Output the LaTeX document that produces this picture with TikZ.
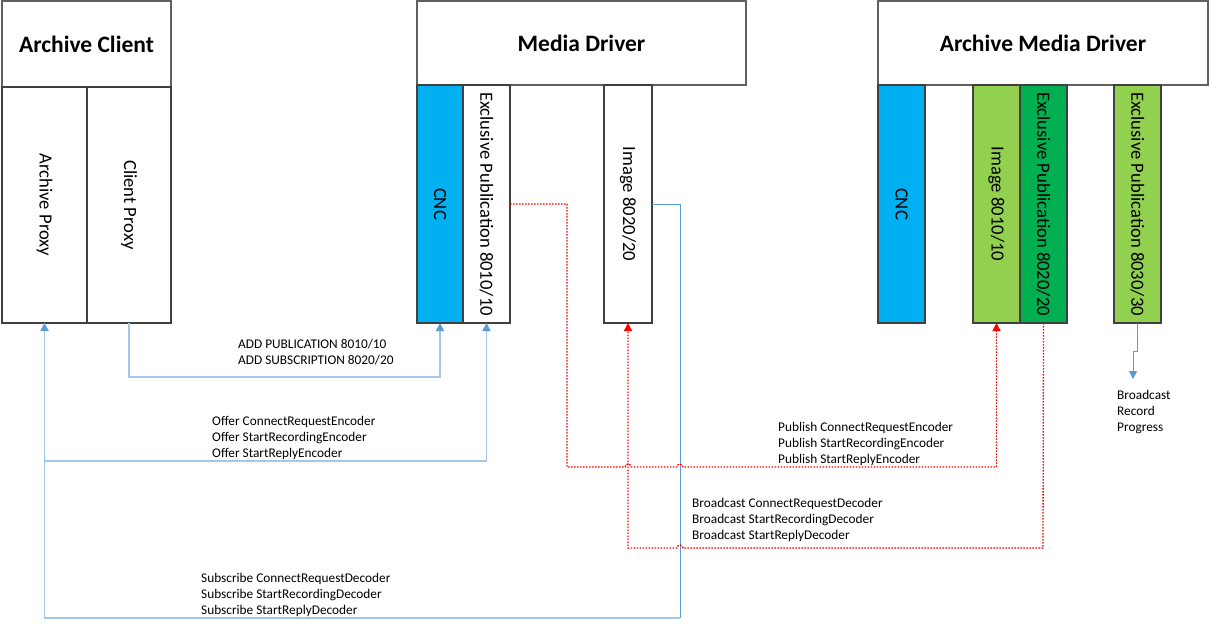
\documentclass[tikz,border=0pt]{standalone}
\usepackage{fontspec}
\setmainfont{Carlito}
\usetikzlibrary{arrows.meta}
\definecolor{cncblue}{HTML}{00B0F0}
\definecolor{lgreen}{HTML}{92D050}
\definecolor{dgreen}{HTML}{00B050}
\definecolor{lblue}{HTML}{A4C6E8}
\definecolor{mblue}{HTML}{5B9BD5}
\definecolor{boxline}{HTML}{404040}
\definecolor{hdrline}{HTML}{606060}
\tikzset{
  hdr/.style={draw=hdrline, line width=1.2pt, fill=white, inner sep=0pt, outer sep=0pt, anchor=north west},
  ttl/.style={font=\fontsize{23.5}{28}\selectfont\bfseries},
  colbox/.style={draw=boxline, line width=1.2pt, inner sep=0pt, outer sep=0pt, anchor=north west,
    minimum width=47pt, minimum height=238pt},
  rotlab/.style={rotate=-90, inner sep=0pt, font=\fontsize{18.6}{20}\selectfont},
  lbl/.style={anchor=north west, inner sep=0pt, align=left, font=\fontsize{13.3}{16}\selectfont},
  btip/.style={-{Triangle[length=8pt,width=8pt,color=mblue]}},
  bwide/.style={draw=lblue, line width=1.8pt},
  bthin/.style={draw=mblue, line width=1pt},
  reddot/.style={draw=red, line width=1.3pt, dash pattern=on 1.6pt off 1.4pt,
    -{Triangle[length=8pt,width=8pt,color=red]}}
}
\begin{document}
\begin{tikzpicture}[x=1pt,y=-1pt]
\useasboundingbox (0,0) rectangle (1210,624);
% ---------- Archive Client ----------
\node[hdr, minimum width=169pt, minimum height=86pt] (ac) at (2,1) {};
\node[ttl] at (ac.center) {Archive Client};
\node[colbox, minimum width=85pt, minimum height=236pt] (ap) at (2,87) {};
\node[rotlab] at (ap.center) {Archive Proxy};
\node[colbox, minimum width=84pt, minimum height=236pt] (cp) at (87,87) {};
\node[rotlab] at (cp.center) {Client Proxy};
% ---------- Media Driver ----------
\node[hdr, minimum width=329pt, minimum height=84pt] (md) at (417,1) {};
\node[ttl] at (md.center) {Media Driver};
\node[colbox, fill=cncblue, minimum width=46pt] (cnc1) at (417,85) {};
\node[rotlab] at (cnc1.center) {CNC};
\node[colbox, fill=white] (ep1) at (463,85) {};
\node[rotlab] at (ep1.center) {Exclusive Publication 8010/10};
\node[colbox, fill=white, minimum width=48pt] (img2) at (604,85) {};
\node[rotlab] at (img2.center) {Image 8020/20};
% ---------- Archive Media Driver ----------
\node[hdr, minimum width=330pt, minimum height=84pt] (amd) at (878,1) {};
\node[ttl] at (amd.center) {Archive Media Driver};
\node[colbox, fill=cncblue] (cnc2) at (878,85) {};
\node[rotlab] at (cnc2.center) {CNC};
\node[colbox, fill=lgreen] (img1) at (973,85) {};
\node[rotlab] at (img1.center) {Image 8010/10};
\node[colbox, fill=dgreen] (ep2) at (1020,85) {};
\node[rotlab] at (ep2.center) {Exclusive Publication 8020/20};
\node[colbox, fill=lgreen] (ep3) at (1114,85) {};
\node[rotlab] at (ep3.center) {Exclusive Publication 8030/30};
% ---------- helper coordinates ----------
\coordinate (addy) at (0,377);
\coordinate (offy) at (0,461);
\coordinate (subc) at (680,618);
\coordinate (r1c) at (567,467);
\coordinate (r2c) at (1043,548);
\coordinate (bj) at (1133,351);
\coordinate (bend) at (1133,379);
% ---------- blue connectors ----------
\draw[bwide, btip] (cp.south) -- (cp.south |- addy) -| (cnc1.south);
\draw[bwide, btip] (ap.south) -- (ap.south |- offy) -| (ep1.south);
\draw[bthin] (img2.east) -| (subc);
\draw[bwide, btip] (subc) -| (ap.south);
\draw[bthin, btip] (ep3.south) -- (ep3.south |- bj) -- (bj) -- (bend);
% ---------- red connectors ----------
\draw[reddot] (ep1.east) -| (r1c) -- (625,467) arc[start angle=180, end angle=360, radius=3]
  -- (677,467) arc[start angle=180, end angle=360, radius=3] -- (img1.south |- r1c) -- (img1.south);
\draw[reddot] (ep2.south) -- (r2c) -- (683,548) arc[start angle=0, end angle=-180, radius=3]
  -- (img2.south |- r2c) -- (img2.south);
% ---------- labels ----------
\node[lbl] (l1) at (238,339) {ADD PUBLICATION 8010/10\\ADD SUBSCRIPTION 8020/20};
\node[lbl] (l2) at (212,416) {Offer ConnectRequestEncoder\\Offer StartRecordingEncoder\\Offer StartReplyEncoder};
\node[lbl] (l3) at (778,422) {Publish ConnectRequestEncoder\\Publish StartRecordingEncoder\\Publish StartReplyEncoder};
\node[lbl] (l4) at (692,498) {Broadcast ConnectRequestDecoder\\Broadcast StartRecordingDecoder\\Broadcast StartReplyDecoder};
\node[lbl] (l5) at (201,573) {Subscribe ConnectRequestDecoder\\Subscribe StartRecordingDecoder\\Subscribe StartReplyDecoder};
\node[lbl] (l6) at (1117,390) {Broadcast\\Record\\Progress};
\end{tikzpicture}
\end{document}
